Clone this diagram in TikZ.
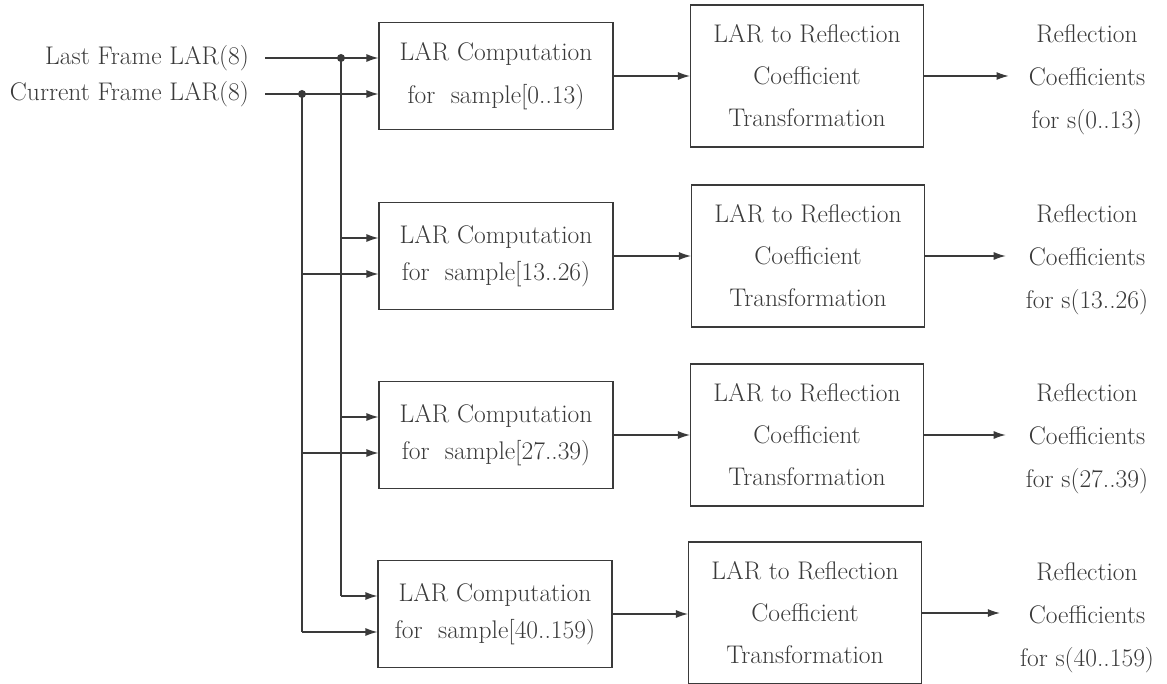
\documentclass[tikz,border=0pt]{standalone}
\usetikzlibrary{arrows.meta}
\definecolor{ink}{HTML}{3a3a3a}
\tikzset{
  base/.style={font=\fontsize{25.5}{37}\selectfont, text=ink},
  larbox/.style={base, draw=ink, line width=1.1pt, minimum width=234pt, minimum height=107pt, align=center, inner sep=0pt},
  refbox/.style={base, draw=ink, line width=1.1pt, minimum width=233pt, minimum height=142pt, align=center, inner sep=0pt, font=\fontsize{25.5}{42}\selectfont},
  outtxt/.style={base, align=center, inner sep=0pt, font=\fontsize{25.5}{43}\selectfont},
  inlbl/.style={base, anchor=east, inner xsep=16pt, inner ysep=0pt},
  arr/.style={draw=ink, line width=1.1pt, -{Latex[length=12pt,width=8pt]}},
  wire/.style={draw=ink, line width=1.1pt},
  dotm/.style={fill=ink}
}
\begin{document}
\begin{tikzpicture}[x=1pt,y=-1pt]
\useasboundingbox (0,0) rectangle (1167,684);

% input labels
\node[inlbl] (last) at (265,58) {Last Frame LAR(8)};
\node[inlbl] (cur) at (265,94) {Current Frame LAR(8)};

% LAR computation boxes
\node[larbox, font=\fontsize{25.5}{43}\selectfont] (L1) at (496,76) {LAR Computation\\for~~sample[0..13)};
\node[larbox] (L2) at (496,256) {LAR Computation\\for~~sample[13..26)};
\node[larbox] (L3) at (496,435) {LAR Computation\\for~~sample[27..39)};
\node[larbox] (L4) at (495,614) {LAR Computation\\for~~sample[40..159)};

% transformation boxes
\node[refbox] (R1) at (807,76) {LAR to Reflection\\Coefficient\\Transformation};
\node[refbox] (R2) at (808,256) {LAR to Reflection\\Coefficient\\Transformation};
\node[refbox] (R3) at (807,435) {LAR to Reflection\\Coefficient\\Transformation};
\node[refbox] (R4) at (805,613) {LAR to Reflection\\Coefficient\\Transformation};

% outputs
\node[outtxt] (O1) at (1087,80) {Reflection\\Coefficients\\for s(0..13)};
\node[outtxt] (O2) at (1087,260) {Reflection\\Coefficients\\for s(13..26)};
\node[outtxt] (O3) at (1087,439) {Reflection\\Coefficients\\for s(27..39)};
\node[outtxt] (O4) at (1087,618) {Reflection\\Coefficients\\for s(40..159)};

% junctions
\coordinate (jl) at (341,58);
\coordinate (jc) at (302,94);

% row 1 inputs
\draw[arr] (last.east) -- (L1.west |- last.east);
\draw[arr] (cur.east) -- (L1.west |- cur.east);
\fill[dotm] (jl) circle (4pt);
\fill[dotm] (jc) circle (4pt);

% rows 2-4 inputs
\foreach \i in {2,3,4} {
  \coordinate (L\i u) at ([yshift=18pt]L\i.west);
  \coordinate (L\i d) at ([yshift=-18pt]L\i.west);
  \draw[arr] (jl |- L\i u) -- (L\i u);
  \draw[arr] (jc |- L\i d) -- (L\i d);
}
\draw[wire] (jl) -- (jl |- L4u);
\draw[wire] (jc) -- (jc |- L4d);

% box to box and outputs
\foreach \i in {1,2,3,4} {
  \draw[arr] (L\i.east) -- (L\i.east -| R\i.west);
  \draw[arr, shorten >=20pt] (R\i.east) -- (R\i.east -| O\i.west);
}
\end{tikzpicture}
\end{document}
